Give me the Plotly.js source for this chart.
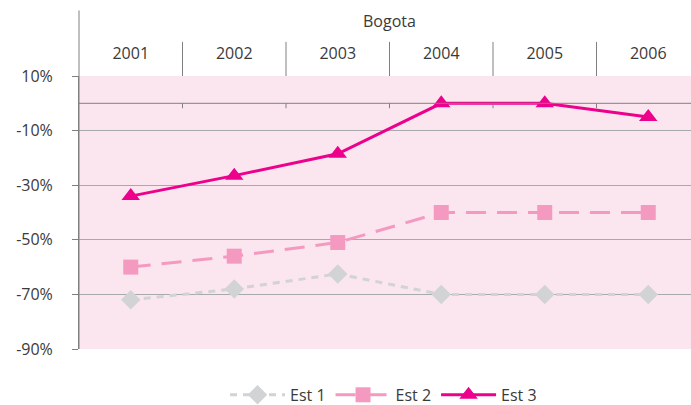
<!DOCTYPE html>
<html>
<head>
<meta charset="utf-8">
<script src="https://cdn.plot.ly/plotly-3.0.1.min.js"></script>
<style>html,body{margin:0;padding:0;background:#fff;}#chart{width:691px;height:405px;}</style>
</head>
<body>
<div id="chart"></div>
<script>
const years = ['2001','2002','2003','2004','2005','2006'];
const est1 = [-72, -68, -62.5, -70, -70, -70];
const est2 = [-60, -56, -51, -40, -40, -40];
const est3 = [-34, -26.5, -18.5, 0, 0, -5];
const seriesNames = ['Est 1', 'Est 2', 'Est 3'];
const yTicks = [10, -10, -30, -50, -70, -90];
const groupTitle = 'Bogota';

const xIdx = years.map((_, i) => i);
const FONT = 'Open Sans, sans-serif';
const TXT = '#3a3a3a';

const traces = [
  {x: xIdx, y: est1, name: seriesNames[0], mode: 'lines+markers',
   line: {color: '#d1d3d4', width: 3, dash: '7px,6px'},
   marker: {symbol: 'diamond', size: 15, color: '#d1d3d4'}},
  {x: xIdx, y: est2, name: seriesNames[1], mode: 'lines+markers',
   line: {color: '#f49ac1', width: 3, dash: '20px,11px'},
   marker: {symbol: 'square', size: 15, color: '#f49ac1'}},
  {x: xIdx, y: est3, name: seriesNames[2], mode: 'lines+markers',
   line: {color: '#ec008c', width: 3},
   marker: {symbol: 'triangle-up', size: 16, color: '#ec008c'}}
];

const shapes = [];
for (let i = 0; i < years.length - 1; i++) {
  shapes.push({type: 'line', xref: 'x', yref: 'paper', x0: i + 0.5, x1: i + 0.5, y0: 1, y1: 1.125,
    line: {color: '#808080', width: 1}});
  shapes.push({type: 'line', xref: 'x', yref: 'y', x0: i + 0.5, x1: i + 0.5, y0: 0, y1: -1.8,
    line: {color: '#808080', width: 1}});
}
shapes.push({type: 'line', xref: 'paper', yref: 'y', x0: 0, x1: 1, y0: 0, y1: 0,
  line: {color: '#808080', width: 1}});
shapes.push({type: 'line', xref: 'paper', yref: 'paper', x0: 0, x1: 0, y0: 0, y1: 1.24,
  line: {color: '#808080', width: 1}});

const layout = {
  width: 691, height: 405,
  margin: {l: 79, r: 0, t: 76, b: 56},
  paper_bgcolor: '#ffffff',
  plot_bgcolor: '#fbe5ef',
  font: {family: FONT, size: 16, color: TXT},
  showlegend: true,
  legend: {orientation: 'h', xref: 'container', yref: 'container',
    x: 0.555, xanchor: 'center', y: 0.025, yanchor: 'middle',
    font: {family: FONT, size: 16, color: TXT}, itemwidth: 55, traceorder: 'normal'},
  xaxis: {
    range: [-0.5, 5.413], side: 'top',
    tickvals: xIdx, ticktext: years,
    showgrid: false, zeroline: false, showline: false, ticks: '',
    tickfont: {family: FONT, size: 16, color: TXT},
    ticklabelstandoff: 13, fixedrange: true, automargin: false
  },
  yaxis: {
    range: [-90, 10], tickvals: yTicks, ticktext: yTicks.map(v => v + '%'),
    showgrid: true, gridcolor: '#a7a9ac', gridwidth: 1,
    zeroline: false, showline: true, linecolor: '#808080', linewidth: 1,
    ticks: 'outside', ticklen: 6, tickcolor: '#808080',
    tickfont: {family: FONT, size: 16, color: TXT}, ticklabelstandoff: 16,
    fixedrange: true, automargin: false
  },
  shapes: shapes,
  annotations: [
    {text: groupTitle, xref: 'x', yref: 'paper', x: (xIdx[0] + xIdx[xIdx.length - 1]) / 2,
     y: 1.2, showarrow: false, font: {family: FONT, size: 16, color: TXT}, yanchor: 'middle'}
  ]
};

Plotly.newPlot('chart', traces, layout, {displayModeBar: false, staticPlot: true});
</script>
</body>
</html>
